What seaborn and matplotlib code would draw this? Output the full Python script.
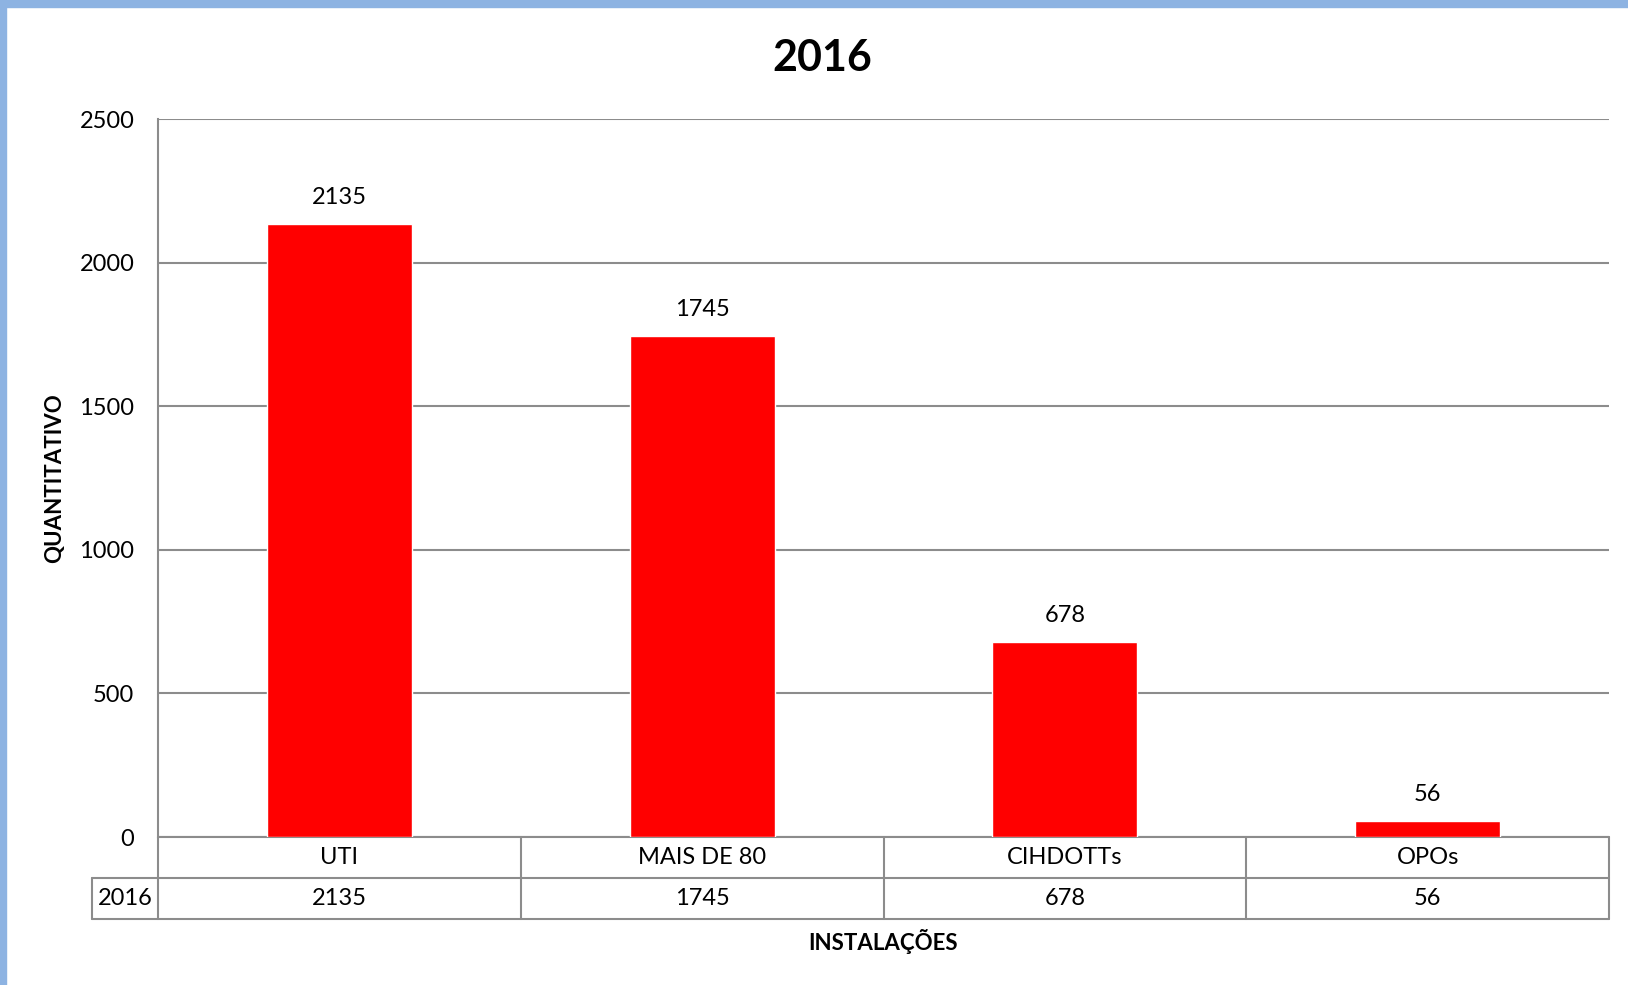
import matplotlib.pyplot as plt
import matplotlib.transforms as mtransforms
from matplotlib.patches import Rectangle
import seaborn as sns
import pandas as pd

# data
categories = ['UTI', 'MAIS DE 80', 'CIHDOTTs', 'OPOs']
values = [2135, 1745, 678, 56]
series_name = '2016'
yticks = [0, 500, 1000, 1500, 2000, 2500]

df = pd.DataFrame({'cat': categories, 'val': values})

sns.set_style('white')
plt.rcParams['font.family'] = ['Lato', 'DejaVu Sans']
plt.rcParams['text.color'] = 'black'
plt.rcParams['axes.labelcolor'] = 'black'
plt.rcParams['ytick.color'] = 'black'

grid_col = '#8c8c8c'
fs = 17

fig = plt.figure(figsize=(16.28, 9.85), dpi=100)
ax = fig.add_axes([158 / 1628, 1 - 837 / 985, (1609 - 158) / 1628, (837 - 119) / 985])

sns.barplot(data=df, x='cat', y='val', color='#FF0000', saturation=1,
            width=0.4, ax=ax, zorder=3)

ax.set_xlim(-0.5, len(categories) - 0.5)
ax.set_ylim(0, 2500)
ax.set_yticks(yticks)
ax.set_yticklabels([str(t) for t in yticks], fontsize=fs)
ax.tick_params(axis='y', length=0, pad=17)
ax.set_xticks([])
ax.grid(axis='y', color=grid_col, linewidth=1.5, zorder=0)
for s in ['top', 'right', 'bottom']:
    ax.spines[s].set_visible(False)
ax.spines['left'].set_color(grid_col)
ax.spines['left'].set_linewidth(1.5)

# value labels above bars
for i, v in enumerate(values):
    ax.annotate(str(v), (i, v), xytext=(0, 19), textcoords='offset points',
                ha='center', va='center', fontsize=fs)

# data table below the axis
trans = mtransforms.blended_transform_factory(ax.transData, ax.transAxes)
row_h = 41 / 718
hdr_w = 66 / 363
x0 = -0.5
x1 = len(categories) - 0.5
lk = dict(color=grid_col, linewidth=1.5, transform=trans, clip_on=False)
ax.plot([x0, x1], [0, 0], **lk)
ax.plot([x0 - hdr_w, x1], [-row_h, -row_h], **lk)
ax.plot([x0 - hdr_w, x1], [-2 * row_h, -2 * row_h], **lk)
ax.plot([x0 - hdr_w, x0 - hdr_w], [-row_h, -2 * row_h], **lk)
for k in range(len(categories) + 1):
    ax.plot([x0 + k, x0 + k], [0, -2 * row_h], **lk)
for i, (c, v) in enumerate(zip(categories, values)):
    ax.text(i, -0.5 * row_h, c, transform=trans, ha='center', va='center', fontsize=fs)
    ax.text(i, -1.5 * row_h, str(v), transform=trans, ha='center', va='center', fontsize=fs)
ax.text(x0 - hdr_w / 2, -1.5 * row_h, series_name, transform=trans,
        ha='center', va='center', fontsize=fs)

ax.set_xlabel('INSTALAÇÕES', fontsize=16, fontweight='bold')
ax.xaxis.set_label_coords(0.5, (837 - 942) / 718)
ax.xaxis.label.set_va('center')
ax.set_ylabel('QUANTITATIVO', fontsize=16, fontweight='bold')
ax.yaxis.set_label_coords((55 - 158) / 1451, 0.5)
ax.yaxis.label.set_va('center')

fig.suptitle('2016', x=0.505, y=1 - 58 / 985, va='center', fontsize=31,
             fontweight='bold', color='black')

# light blue frame on top and left
fig.patches.append(Rectangle((0, 1 - 7 / 985), 1, 7 / 985, transform=fig.transFigure,
                             color='#8DB3E2', zorder=10))
fig.patches.append(Rectangle((0, 0), 6 / 1628, 1, transform=fig.transFigure,
                             color='#8DB3E2', zorder=10))

fig.savefig('out.png', dpi=100)
